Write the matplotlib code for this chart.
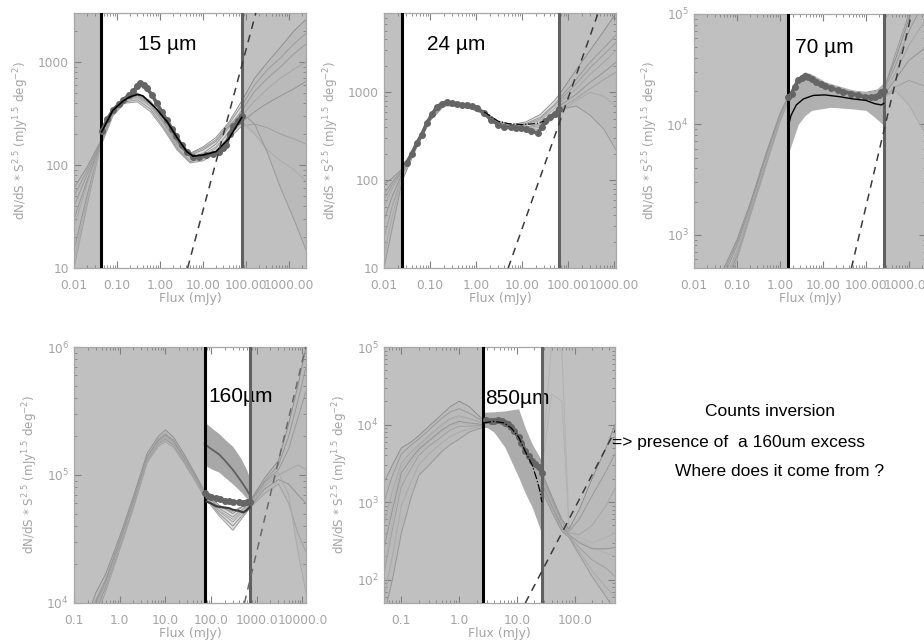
import numpy as np
import matplotlib
matplotlib.use("Agg")
import matplotlib.pyplot as plt
from matplotlib.ticker import LogLocator, NullFormatter

# ---------------- DATA ----------------
# Panel 1 : 15 um
p1_grid = [0.01, 0.02, 0.04, 0.08, 0.15, 0.3, 0.6, 1.2, 2.5, 5, 10, 20, 40, 80, 160, 320, 640, 1300, 2500]
p1_sims = [
    [60, 95, 165, 330, 440, 500, 420, 280, 175, 130, 150, 185, 260, 420, 700, 1000, 1400, 2000, 2600],
    [40, 80, 160, 320, 430, 470, 390, 260, 160, 120, 130, 160, 230, 340, 520, 700, 900, 1200, 1500],
    [25, 65, 155, 315, 420, 450, 370, 250, 150, 112, 120, 145, 210, 300, 420, 550, 700, 850, 1000],
    [15, 50, 150, 310, 410, 430, 350, 235, 145, 108, 115, 135, 190, 260, 330, 400, 470, 550, 650],
    [10, 40, 145, 300, 400, 410, 330, 225, 140, 105, 110, 130, 180, 240, 250, 230, 200, 180, 160],
    [12, 45, 150, 310, 420, 460, 380, 255, 155, 118, 125, 150, 205, 270, 200, 140, 110, 90, 70],
    [30, 70, 158, 320, 430, 480, 400, 265, 165, 125, 140, 170, 240, 320, 250, 130, 60, 30, 15],
    [50, 88, 162, 325, 435, 490, 410, 270, 170, 128, 145, 175, 250, 380, 600, 850, 1100, 1500, 1900],
]
p1_data_s = [0.044, 0.06, 0.082, 0.11, 0.14, 0.19, 0.24, 0.3, 0.34, 0.42, 0.49, 0.65, 0.84, 1.1, 1.42,
             1.9, 2.4, 3.2, 4.2, 5.9, 8, 12, 17, 24, 30, 35, 42, 50, 65, 80]
p1_data_n = [213, 280, 345, 390, 430, 480, 520, 590, 625, 600, 560, 480, 400, 330, 275,
             225, 190, 155, 135, 121, 120, 125, 128, 135, 145, 157, 200, 237, 270, 300]
p1_model_s = [0.044, 0.08, 0.14, 0.2, 0.3, 0.4, 0.6, 0.84, 1.2, 1.42, 2.4, 4.2, 5.9, 10, 20, 40, 80]
p1_model_n = [210, 340, 420, 460, 485, 470, 400, 350, 290, 270, 190, 135, 122, 125, 135, 180, 290]
p1_dash_s = [4.4, 170]
p1_dash_n = [10, 3000]

# Panel 2 : 24 um
p2_grid = [0.01, 0.015, 0.025, 0.05, 0.1, 0.2, 0.4, 0.8, 1.5, 3, 6, 12, 25, 50, 65, 150, 300, 600, 1100]
p2_sims = [
    [90, 105, 135, 260, 510, 750, 740, 690, 610, 470, 430, 460, 560, 800, 950, 1800, 3000, 5000, 8000],
    [70, 95, 130, 255, 500, 740, 730, 680, 600, 460, 420, 440, 520, 720, 850, 1400, 2200, 3200, 4500],
    [50, 80, 125, 250, 495, 730, 720, 670, 590, 450, 410, 420, 480, 650, 760, 1100, 1600, 2200, 3000],
    [35, 65, 120, 245, 490, 720, 715, 660, 580, 440, 400, 400, 440, 600, 700, 950, 1300, 1700, 2200],
    [22, 50, 115, 240, 485, 710, 705, 650, 570, 430, 390, 380, 400, 560, 650, 850, 1100, 1400, 1700],
    [14, 38, 110, 235, 480, 700, 700, 645, 560, 420, 380, 370, 380, 520, 600, 800, 1000, 900, 700],
    [10, 28, 100, 230, 475, 705, 710, 655, 575, 440, 395, 390, 420, 580, 640, 700, 550, 380, 220],
    [60, 88, 128, 252, 498, 735, 725, 675, 595, 455, 415, 430, 500, 700, 800, 1250, 1900, 2700, 3700],
]
p2_data_s = [0.031, 0.04, 0.052, 0.066, 0.086, 0.11, 0.14, 0.18, 0.23, 0.3, 0.39, 0.5, 0.65, 0.8, 1.07,
             1.5, 2.1, 3, 4.1, 5.7, 7.5, 9.4, 12, 15.9, 22, 27, 31, 40, 51, 65]
p2_data_n = [156, 200, 265, 330, 450, 560, 680, 740, 770, 760, 740, 720, 710, 700, 660,
             580, 490, 430, 400, 400, 395, 390, 380, 360, 345, 400, 470, 520, 560, 640]
p2_model_s = [1.5, 3, 5, 10, 20, 30]
p2_model_n = [600, 470, 440, 430, 440, 470]
p2_dash_s = [5.0, 450]
p2_dash_n = [10, 8000]

# Panel 3 : 70 um
p3_grid = [0.01, 0.02, 0.05, 0.1, 0.2, 0.5, 1, 1.5, 3, 6, 12, 25, 50, 100, 260, 500, 1000, 2500]
p3_sims = [
    [60, 150, 500, 900, 1900, 5800, 12500, 17500, 27000, 26000, 23000, 21000, 20000, 19500, 21000, 40000, 90000, 200000],
    [40, 110, 420, 800, 1750, 5400, 12000, 17000, 24000, 24000, 21500, 20000, 19000, 18500, 20000, 35000, 70000, 140000],
    [30, 90, 370, 720, 1650, 5100, 11500, 16500, 21000, 21500, 20000, 19000, 18000, 17500, 19000, 30000, 52000, 90000],
    [20, 70, 330, 650, 1550, 4800, 11000, 16000, 19000, 19500, 19000, 18000, 17500, 17000, 18500, 26000, 38000, 50000],
    [15, 55, 290, 600, 1450, 4500, 10500, 15500, 18000, 18500, 18000, 17500, 16500, 16000, 17500, 22000, 25000, 22000],
    [25, 80, 350, 680, 1600, 5000, 11200, 16200, 20000, 20500, 19500, 18500, 17200, 16500, 18000, 20000, 15000, 8000],
    [50, 130, 460, 850, 1800, 5600, 12200, 17200, 25000, 25000, 22000, 20500, 19500, 19000, 20500, 45000, 100000, 250000],
]
p3_data_s = [1.56, 1.87, 2.2, 2.67, 3.2, 3.8, 4.5, 5.5, 7, 9, 11, 15, 22.7, 30, 46, 65, 95, 130, 160, 200, 230, 260]
p3_data_n = [17700, 19000, 22000, 25000, 26500, 27700, 27000, 25800, 24000, 23000, 22500, 21500, 20300,
             19800, 19000, 18500, 17700, 17700, 17700, 18500, 19600, 20000]
p3_model_s = [1.56, 1.8, 2.4, 3.5, 6, 11, 25, 50, 100, 160, 230, 260]
p3_model_n = [9500, 12000, 15000, 17000, 18300, 18500, 17800, 17000, 16500, 15400, 15000, 15500]
p3_band_s = [1.56, 2.67, 3.8, 5.5, 11, 15, 50, 100, 160, 260]
p3_band_lo = [5400, 10000, 12000, 13400, 14000, 14300, 13800, 13400, 11600, 9800]
p3_band_hi = [19000, 27000, 30000, 28500, 24500, 23500, 20500, 19500, 20000, 24000]
p3_dash_s = [46, 1150]
p3_dash_n = [500, 100000]

# Panel 4 : 160 um
p4_grid = [0.1, 0.2, 0.3, 0.5, 1, 2, 4, 7, 10, 15, 25, 45, 70, 150, 300, 700, 1500, 3000, 5000, 8000, 12000]
p4_sims = [
    [3500, 8000, 12000, 17000, 33000, 68000, 148000, 200000, 225000, 198000, 148000, 102000, 76000, 58000, 50000, 62000, 95000, 130000, 250000, 500000, 1000000],
    [3000, 7000, 10500, 15500, 31000, 64000, 140000, 190000, 210000, 188000, 140000, 98000, 73000, 55000, 47000, 60000, 88000, 110000, 160000, 280000, 450000],
    [2600, 6200, 9500, 14500, 29000, 61000, 135000, 182000, 200000, 180000, 135000, 95000, 71000, 52000, 43000, 58000, 82000, 100000, 110000, 120000, 110000],
    [2200, 5500, 8500, 13500, 27500, 58000, 130000, 175000, 190000, 172000, 130000, 92000, 69000, 50000, 40000, 56000, 78000, 92000, 85000, 70000, 60000],
    [1900, 4800, 7600, 12500, 26000, 55000, 125000, 168000, 182000, 165000, 126000, 90000, 68000, 48000, 37000, 55000, 72000, 85000, 60000, 35000, 25000],
    [2400, 5800, 9000, 14000, 28000, 60000, 133000, 178000, 195000, 176000, 133000, 94000, 70000, 53000, 45000, 59000, 85000, 105000, 70000, 25000, 12000],
    [2800, 6600, 10000, 15000, 30000, 63000, 138000, 186000, 205000, 184000, 138000, 97000, 72000, 56000, 52000, 61000, 90000, 120000, 200000, 380000, 700000],
]
p4_data_s = [72, 85, 100, 126, 160, 200, 250, 300, 400, 512, 600, 700]
p4_data_n = [72000, 69000, 67000, 66000, 65000, 63000, 62500, 62000, 61000, 60500, 61500, 62000]
p4_model_s = [80, 100, 130, 180, 250, 300, 400, 512, 600, 700]
p4_model_n = [62000, 60000, 57000, 56000, 55000, 53500, 52500, 51000, 53000, 56000]
p4_band_s = [72, 100, 150, 200, 300, 450, 600, 700]
p4_band_lo = [120000, 112000, 105000, 96000, 85000, 74000, 66000, 62000]
p4_band_hi = [260000, 235000, 210000, 190000, 167000, 135000, 110000, 95000]
p4_upper_n = [175000, 160000, 145000, 130000, 110000, 90000, 77000, 70000]
p4_dash_s = [540, 11800]
p4_dash_n = [10000, 1000000]

# Panel 5 : 850 um
p5_grid = [0.05, 0.07, 0.1, 0.15, 0.2, 0.3, 0.5, 0.7, 1.0, 1.5, 2.6, 4, 7, 12, 20, 27, 40, 60, 80, 120, 200, 350, 500]
p5_sims = [
    [1800, 3000, 5000, 6000, 7200, 9500, 13500, 17000, 20000, 17000, 11500, 13000, 14000, 9000, 4000, 2400, 1200, 600, 450, 800, 2000, 5000, 10000],
    [1000, 2200, 4200, 5500, 6500, 8500, 12000, 14500, 16000, 14000, 11000, 12000, 11000, 7000, 3500, 2200, 1100, 550, 420, 600, 1200, 2500, 4200],
    [500, 1400, 3200, 4500, 5500, 7200, 10000, 12000, 13000, 12000, 10500, 11000, 9500, 6000, 3000, 2000, 1000, 500, 400, 380, 500, 900, 1500],
    [250, 800, 2400, 3700, 4800, 6200, 8500, 10000, 11000, 10500, 10000, 10500, 8500, 5200, 2700, 1800, 900, 480, 380, 300, 250, 250, 260],
    [120, 450, 1600, 2800, 4000, 5300, 7000, 8500, 9500, 9500, 9800, 10000, 8000, 4500, 2400, 1700, 850, 460, 370, 260, 180, 140, 110],
    [60, 200, 900, 1900, 3000, 4200, 5800, 7000, 8000, 8800, 9500, 9600, 7500, 4000, 2100, 1500, 800, 440, 360, 230, 130, 80, 60],
    [35, 100, 400, 1200, 2200, 3000, 4500, 5500, 6500, 8000, 9200, 9200, 7000, 3600, 1900, 1400, 750, 420, 350, 210, 110, 60, 40],
]
p5_spikes = [
    [300, 1000, 2800, 4000, 5200, 6800, 9500, 11500, 12500, 11500, 10500, 11000, 9000, 6000, 3200, 3000, 110000, 90000, 500, 350, 300, 350, 400],
    [150, 600, 2000, 3300, 4500, 6000, 8000, 9500, 10500, 10000, 9900, 10200, 8200, 5000, 2800, 2600, 25000, 20000, 450, 320, 260, 220, 200],
]
p5_data_s = [2.97, 3.5, 4.0, 4.76, 5.5, 6.3, 7.1, 8, 9, 10.7, 12, 14, 16, 18.4, 21, 24, 27]
p5_data_n = [11300, 11200, 11200, 11300, 11000, 10600, 10200, 9300, 8200, 6900, 5800, 4600, 3900, 3400, 3100, 2800, 2400]
p5_model_s = [2.6, 4, 6, 8, 10.7, 14, 18.4, 22, 25, 27]
p5_model_n = [10500, 11000, 10500, 9000, 6900, 4500, 3000, 2000, 1400, 1000]
p5_band_s = [2.6, 4, 6.2, 10.7, 14, 18.4, 27]
p5_band_lo = [10000, 8000, 5100, 2100, 1300, 860, 390]
p5_band_hi = [14400, 14600, 15000, 16000, 9000, 5600, 3400]
p5_dash_s = [14, 570]
p5_dash_n = [50, 10000]

# tick labels
xt_a = [0.01, 0.1, 1, 10, 100, 1000]
xl_a = ["0.01", "0.10", "1.00", "10.00", "100.00", "1000.00"]
xt_b = [0.1, 1, 10, 100, 1000, 10000]
xl_b = ["0.1", "1.0", "10.0", "100.0", "1000.0", "10000.0"]
xt_c = [0.1, 1, 10, 100]
xl_c = ["0.1", "1.0", "10.0", "100.0"]
yt_a = [10, 100, 1000]
yl_a = ["10", "100", "1000"]

titles = ["15 µm", "24 µm", "70 µm", "160µm", "850µm"]
cuts = [(0.042, 80), (0.025, 65), (1.5, 260), (72, 710), (2.6, 27)]
side_text = ["Counts inversion", "=> presence of  a 160um excess", "Where does it come from ?"]

# ---------------- FIGURE ----------------
W, H = 924, 644
fig = plt.figure(figsize=(W / 100, H / 100), dpi=100)

SHADE = "#c0c0c0"
TXT = "#a4a4a4"
SIMC = ["#8e8e8e", "#9a9a9a", "#a6a6a6", "#949494", "#a0a0a0", "#aaaaaa", "#989898", "#9c9c9c"]


def add_ax(x0, y0, x1, y1):
    return fig.add_axes([x0 / W, 1 - y1 / H, (x1 - x0) / W, (y1 - y0) / H])


def style(ax, xlim, ylim, xt, xl, yt=None, yl=None):
    ax.set_xscale("log")
    ax.set_yscale("log")
    ax.set_xlim(*xlim)
    ax.set_ylim(*ylim)
    ax.set_xticks(xt, xl)
    if yt is not None:
        ax.set_yticks(yt, yl)
    ax.xaxis.set_minor_locator(LogLocator(base=10, subs=np.arange(2, 10), numticks=50))
    ax.yaxis.set_minor_locator(LogLocator(base=10, subs=np.arange(2, 10), numticks=50))
    ax.xaxis.set_minor_formatter(NullFormatter())
    ax.yaxis.set_minor_formatter(NullFormatter())
    ax.tick_params(which="both", direction="in", top=True, right=True, color="#808080",
                   labelcolor=TXT, labelsize=8.8)
    ax.tick_params(which="major", length=5, width=0.8)
    ax.tick_params(which="minor", length=2.5, width=0.6)
    ax.tick_params(axis="x", which="major", pad=8)
    for s in ax.spines.values():
        s.set_color("#a8a8a8")
        s.set_linewidth(0.9)
    ax.set_xlabel("Flux (mJy)", color=TXT, fontsize=9, labelpad=0)
    ax.set_ylabel(r"dN/dS $*$ S$^{2.5}$ (mJy$^{1.5}$ deg$^{-2}$)", color=TXT, fontsize=8.6, labelpad=5)


def draw(ax, xlim, cut, grid, sims, ds, dn, ms, mn, dash_s, dash_n, model_kw, dash_color="#3a3a3a"):
    lo, hi = cut
    ax.axvspan(xlim[0] * 0.5, lo, color=SHADE, lw=0, zorder=0)
    ax.axvspan(hi, xlim[1] * 2, color=SHADE, lw=0, zorder=0)
    arr = np.array(sims, dtype=float)
    ax.fill_between(grid, arr.min(axis=0), arr.max(axis=0), color="#b4b4b4", alpha=0.45, lw=0, zorder=1)
    for i, c in enumerate(sims):
        ax.plot(grid, c, color=SIMC[i % len(SIMC)], lw=0.7, zorder=2)
    ax.axvline(lo, color="black", lw=2.2, zorder=5)
    ax.axvline(hi, color="#606060", lw=2.2, zorder=5)
    ax.plot(ds, dn, color="#656565", lw=2.6, marker="o", ms=4, zorder=6)
    ax.plot(ms, mn, zorder=7, **model_kw)
    ax.plot(dash_s, dash_n, color=dash_color, lw=1.1, ls=(0, (5, 4)), zorder=7)


def title(ax, x, y, s, z=10):
    ax.text(x, y, s, transform=ax.transAxes, fontsize=15, family="Liberation Sans",
            va="center", ha="left", zorder=z)


# Panel 1
ax1 = add_ax(74, 13, 306, 268)
xl1 = (0.01, 2500)
draw(ax1, xl1, cuts[0], p1_grid, p1_sims, p1_data_s, p1_data_n, p1_model_s, p1_model_n,
     p1_dash_s, p1_dash_n, dict(color="black", lw=1.2))
style(ax1, xl1, (10, 3000), xt_a, xl_a, yt_a, yl_a)
title(ax1, 0.276, 0.878, titles[0])

# Panel 2
ax2 = add_ax(384, 13, 616, 268)
xl2 = (0.01, 1100)
draw(ax2, xl2, cuts[1], p2_grid, p2_sims, p2_data_s, p2_data_n, p2_model_s, p2_model_n,
     p2_dash_s, p2_dash_n, dict(color="black", lw=0.8, ls="-."))
style(ax2, xl2, (10, 8000), xt_a, xl_a, yt_a, yl_a)
title(ax2, 0.185, 0.878, titles[1])

# Panel 3
ax3 = add_ax(694, 14, 926, 268)
xl3 = (0.01, 2500)
ax3.fill_between(p3_band_s, p3_band_lo, p3_band_hi, color="#b0b0b0", lw=0, zorder=3)
draw(ax3, xl3, cuts[2], p3_grid, p3_sims, p3_data_s, p3_data_n, p3_model_s, p3_model_n,
     p3_dash_s, p3_dash_n, dict(color="black", lw=1.0))
style(ax3, xl3, (500, 1e5), xt_a, xl_a, [1e3, 1e4, 1e5], [r"10$^3$", r"10$^4$", r"10$^5$"])
title(ax3, 0.435, 0.87, titles[2])

# Panel 4
ax4 = add_ax(74, 347, 306, 603)
xl4 = (0.1, 12000)
ax4.fill_between(p4_band_s, p4_band_lo, p4_band_hi, color="#a8a8a8", lw=0, zorder=3)
ax4.plot(p4_band_s, p4_upper_n, color="#606060", lw=1.3, zorder=4)
draw(ax4, xl4, cuts[3], p4_grid, p4_sims, p4_data_s, p4_data_n, p4_model_s, p4_model_n,
     p4_dash_s, p4_dash_n, dict(color="#3c3c3c", lw=1.6), dash_color="#6a6a6a")
style(ax4, xl4, (1e4, 1e6), xt_b, xl_b, [1e4, 1e5, 1e6], [r"10$^4$", r"10$^5$", r"10$^6$"])
title(ax4, 0.578, 0.805, titles[3], z=4.5)

# Panel 5
ax5 = add_ax(384, 347, 615, 603)
xl5 = (0.05, 500)
ax5.fill_between(p5_band_s, p5_band_lo, p5_band_hi, color="#acacac", lw=0, zorder=3)
for sp in p5_spikes:
    ax5.plot(p5_grid, sp, color="#b2b2b2", lw=0.7, zorder=2)
draw(ax5, xl5, cuts[4], p5_grid, p5_sims, p5_data_s, p5_data_n, p5_model_s, p5_model_n,
     p5_dash_s, p5_dash_n, dict(color="black", lw=0.9, ls="-."))
style(ax5, xl5, (50, 1e5), xt_c, xl_c, [1e2, 1e3, 1e4, 1e5],
      [r"10$^2$", r"10$^3$", r"10$^4$", r"10$^5$"])
title(ax5, 0.437, 0.80, titles[4], z=4.5)

# Side text
fig.text(770 / W, 1 - 411 / H, side_text[0], ha="center", va="center",
         fontsize=12.5, family="Liberation Sans")
fig.text(612 / W, 1 - 443 / H, side_text[1], ha="left", va="center",
         fontsize=12.5, family="Liberation Sans")
fig.text(780 / W, 1 - 471 / H, side_text[2], ha="center", va="center",
         fontsize=12.5, family="Liberation Sans")

fig.savefig("out.png", dpi=100)
